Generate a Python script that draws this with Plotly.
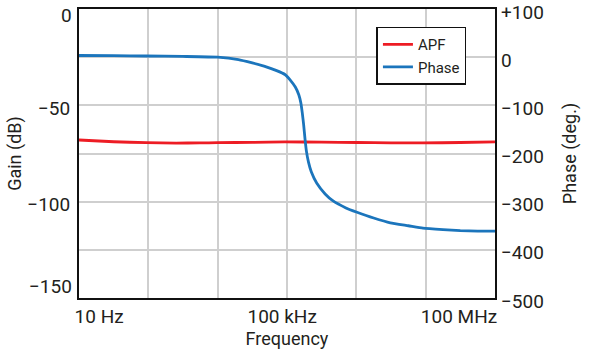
import plotly.graph_objects as go

# x positions along the frequency axis, in grid divisions (10 Hz .. 100 MHz decade grid)
freq_pos_phase = [0.0, 0.5, 0.97, 1.5, 2.0, 2.3, 2.5, 2.7, 2.85, 2.97, 3.05, 3.12,
                  3.17, 3.20, 3.22, 3.24, 3.26, 3.28, 3.31, 3.35, 3.43, 3.55, 3.66,
                  3.85, 4.01, 4.25, 4.49, 4.75, 4.96, 5.25, 5.5, 5.75, 6.0]
phase_deg = [3.5, 3.0, 2.4, 1.5, 0.0, -5, -12, -20, -28, -36, -48, -62,
             -78, -95, -115, -140, -170, -195, -218, -238, -262, -284, -298,
             -313, -322, -334, -344, -350, -355, -358, -360, -361, -361]

freq_pos_apf = [0.0, 0.5, 0.97, 1.4, 1.74, 2.0, 2.5, 2.97, 3.5, 4.01, 4.5, 4.96, 5.5, 6.0]
apf_db = [-68.0, -68.9, -69.4, -69.6, -69.5, -69.4, -69.2, -69.0, -69.1, -69.3, -69.5, -69.5, -69.3, -69.0]

x_grid = [0, 1, 2, 3, 4, 5, 6]
x_label_pos = [0.29, 2.93, 5.48]
x_labels = ["10 Hz", "100 kHz", "100 MHz"]
gain_tickvals = [0, -25, -50, -75, -100, -125, -150]
gain_ticktext = ["", "", "\u221250", "", "\u2212100", "", ""]
gain_top_label = "0"
gain_bottom_label = "\u2212150"
phase_tickvals = [100, 0, -100, -200, -300, -400, -500]
phase_ticktext = ["+100", "0", "\u2212100", "\u2212200", "\u2212300", "\u2212400", "\u2212500"]

RED = "#ed1c24"
BLUE = "#1b75bc"
TXT = "#231f20"
FONT = "Roboto"
GRID = "#cfcfcf"

fig = go.Figure()
fig.add_trace(go.Scatter(x=freq_pos_apf, y=apf_db, name="APF", mode="lines",
                         line=dict(color=RED, width=2.8, shape="spline", smoothing=0.6),
                         yaxis="y"))
fig.add_trace(go.Scatter(x=freq_pos_phase, y=phase_deg, name="Phase", mode="lines",
                         line=dict(color=BLUE, width=2.8, shape="spline", smoothing=0.4),
                         yaxis="y2"))

fig.add_annotation(xref="paper", yref="y", x=0, y=-150, text=gain_bottom_label,
                   showarrow=False, xanchor="right", yanchor="middle",
                   xshift=-5, yshift=12, font=dict(family=FONT, size=19, color=TXT))
fig.add_annotation(xref="paper", yref="y", x=0, y=0, text=gain_top_label,
                   showarrow=False, xanchor="right", yanchor="middle",
                   xshift=-5, yshift=-6, font=dict(family=FONT, size=19, color=TXT))

fig.update_layout(
    width=590, height=349,
    margin=dict(l=79, r=95, t=9, b=51),
    paper_bgcolor="white", plot_bgcolor="white",
    font=dict(family=FONT, size=19, color=TXT),
    showlegend=True,
    legend=dict(x=0.715, y=0.939, xanchor="left", yanchor="top",
                bgcolor="white", bordercolor="#111", borderwidth=1.5,
                font=dict(family=FONT, size=15, color=TXT),
                tracegroupgap=0),
    xaxis=dict(range=[0, 6], tickmode="array", tickvals=x_label_pos, ticktext=x_labels,
               showgrid=False,
               minor=dict(tickmode="array", tickvals=x_grid, showgrid=True,
                          gridcolor=GRID, gridwidth=1.5, ticks=""),
               showline=True, linecolor="#111", linewidth=2, mirror=True,
               ticks="", zeroline=False, automargin=False,
               ticklabeloverflow="allow",
               title=dict(text="Frequency", standoff=4, font=dict(size=18)),
               tickfont=dict(size=19)),
    yaxis=dict(range=[-150, 0], tickmode="array", tickvals=gain_tickvals, ticktext=gain_ticktext,
               showgrid=True, gridcolor=GRID, gridwidth=1.5,
               showline=True, linecolor="#111", linewidth=2, mirror=True,
               ticks="", zeroline=False, automargin=False,
               ticklabeloverflow="allow", ticklabelstandoff=3, ticklabelshift=3,
               title=dict(text="Gain (dB)", standoff=1, font=dict(size=18)),
               tickfont=dict(size=19)),
    yaxis2=dict(range=[-500, 100], overlaying="y", side="right",
                tickmode="array", tickvals=phase_tickvals, ticktext=phase_ticktext,
                showgrid=False, zeroline=False, showline=False, ticks="",
                automargin=False, ticklabeloverflow="allow", ticklabelstandoff=5,
                ticklabelshift=3,
                title=dict(text="Phase (deg.)", standoff=20, font=dict(size=18)),
                tickfont=dict(size=19)),
)

fig.write_html("out.html", config={"displayModeBar": False},
               post_script="document.body.style.margin='0';")
